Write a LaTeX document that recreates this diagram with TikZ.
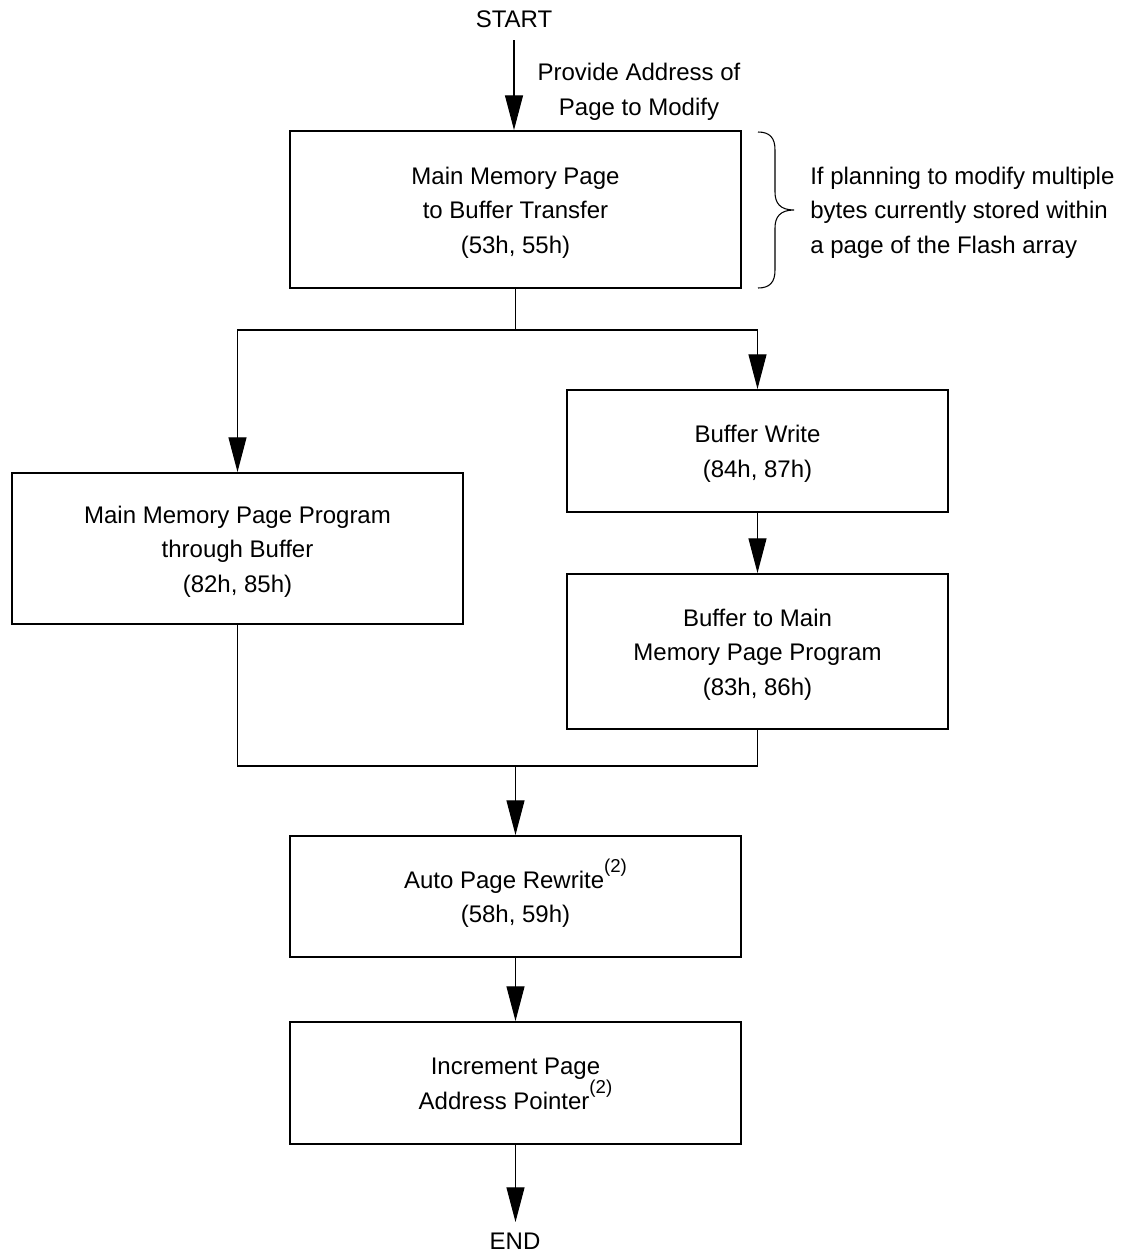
\documentclass[tikz,border=0pt]{standalone}
\usepackage{fontspec}
\setmainfont{Liberation Sans}
\usetikzlibrary{arrows.meta}
\newcommand\fnmark[1]{\raisebox{12pt}[0pt][0pt]{\fontsize{14}{14}\selectfont #1}}
\newcommand\cellc[1]{\raisebox{-1.6pt}[\height][\depth]{\begin{tabular}{@{}c@{}}#1\end{tabular}}}
\newcommand\celll[1]{\raisebox{-1.6pt}[\height][\depth]{\begin{tabular}{@{}l@{}}#1\end{tabular}}}
\begin{document}
\begin{tikzpicture}[x=0.75pt,y=-0.75pt,
  font=\fontsize{18}{25.9}\selectfont,
  box/.style={draw,line width=1.5pt,rectangle,inner sep=0pt},
  conn/.style={line width=0.8pt},
  arr/.style={conn,-{Triangle[length=26pt,width=13.5pt]}},
  lbl/.style={inner sep=0pt}]
\useasboundingbox (0,0) rectangle (1126,1254);
% nodes
\node[lbl] (start) at (514,19) {START};
\node[lbl] (prov) at (639,89) {\cellc{Provide Address of\\Page to Modify}};
\node[box,minimum width={451*0.75pt},minimum height={157*0.75pt}] (b1) at (515.5,209.5)
  {\cellc{Main Memory Page\\to Buffer Transfer\\(53h, 55h)}};
\node[lbl,anchor=west] (note) at (810,209.5)
  {\celll{If planning to modify multiple\\bytes currently stored within\\a page of the Flash array}};
\node[box,minimum width={451*0.75pt},minimum height={151*0.75pt}] (b2) at (237.5,548.5)
  {\cellc{Main Memory Page Program\\through Buffer\\(82h, 85h)}};
\node[box,minimum width={381*0.75pt},minimum height={122*0.75pt}] (b3) at (757.5,451)
  {\cellc{Buffer Write\\(84h, 87h)}};
\node[box,minimum width={381*0.75pt},minimum height={155*0.75pt}] (b4) at (757.5,651.5)
  {\cellc{Buffer to Main\\Memory Page Program\\(83h, 86h)}};
\node[box,minimum width={451*0.75pt},minimum height={121*0.75pt}] (b5) at (515.5,896.5)
  {\cellc{Auto Page Rewrite\fnmark{(2)}\\(58h, 59h)}};
\node[box,minimum width={451*0.75pt},minimum height={122*0.75pt}] (b6) at (515.5,1083)
  {\cellc{Increment Page\\Address Pointer\fnmark{(2)}}};
\node[lbl] (end) at (515,1241) {END};
% brace
\draw[line width=0.8pt] (758,132) .. controls (770,132) and (775,138) .. (775,150)
  -- (775,192) .. controls (775,203) and (780,210) .. (794,210)
  .. controls (780,210) and (775,217) .. (775,228)
  -- (775,270) .. controls (775,282) and (770,288) .. (758,288);
% connectors
\coordinate (s0) at (514,40);
\draw[arr] (s0) -- (b1.north -| s0);
\draw[conn] (b1.south) -- ++(0,41) coordinate (sp);
\draw[arr] (sp) -| (b2.north);
\draw[arr] (sp) -| (b3.north);
\draw[arr] (b3.south) -- (b4.north);
\coordinate (mg) at (515.5,766);
\draw[conn] (b2.south) |- (mg);
\draw[conn] (b4.south) |- (mg);
\draw[arr] (mg) -- (b5.north);
\draw[arr] (b5.south) -- (b6.north);
\coordinate (e0) at (515.5,1222);
\draw[arr] (b6.south) -- (e0);
\end{tikzpicture}
\end{document}
